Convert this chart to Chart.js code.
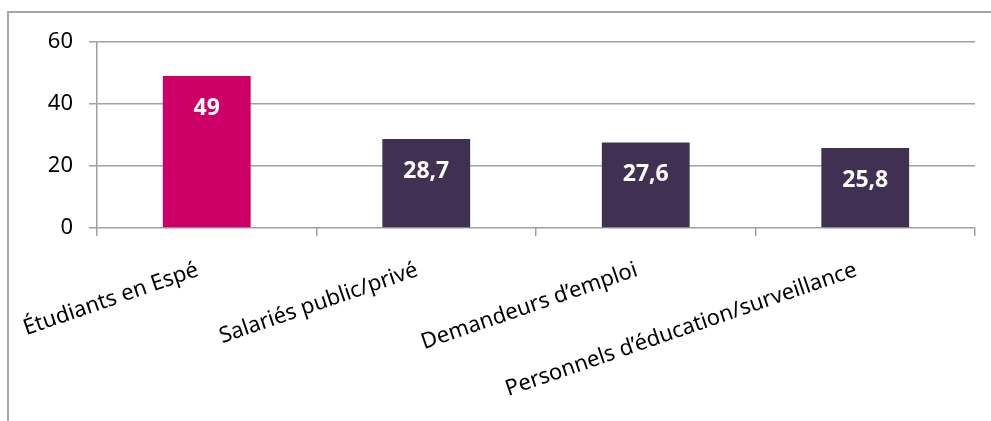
<!DOCTYPE html>
<html>
<head>
<meta charset="utf-8">
<script src="https://cdn.jsdelivr.net/npm/chart.js@4/dist/chart.umd.min.js"></script>
<style>
  html, body { margin: 0; padding: 0; background: #fff; }
  #cadre { position: absolute; left: 7px; top: 11px; width: 1000px; height: 420px;
           border-left: 2px solid #a6a6a6; border-top: 2px solid #a6a6a6; }
  #zone { position: absolute; left: 0; top: 0; width: 991px; height: 421px; }
</style>
</head>
<body>
<div id="cadre"></div>
<div id="zone"><canvas id="grafica"></canvas></div>
<script>
var categorias = ["Étudiants en Espé", "Salariés public/privé", "Demandeurs d\u2019emploi", "Personnels d\u2019éducation/surveillance"];
var valores = [49, 28.7, 27.6, 25.8];
var colores = ["#cc0066", "#403152", "#403152", "#403152"];
var ticksY = [0, 20, 40, 60];

// etiquetas blancas dentro de las barras
var etiquetas = {
  id: "etiquetas",
  afterDatasetsDraw: function(chart)
  {
    var ctx = chart.ctx;
    var meta = chart.getDatasetMeta(0);
    ctx.save();
    ctx.fillStyle = "#ffffff";
    ctx.font = "bold 23px 'Noto Sans'";
    ctx.textAlign = "center";
    ctx.textBaseline = "middle";
    meta.data.forEach(function(bar, i){
      ctx.fillText(String(valores[i]).replace(".", ","), bar.x, bar.y + 32);
    });
    ctx.restore();
  }
};

var chart = new Chart(document.getElementById("grafica"), {
  type: "bar",
  data: {
    labels: categorias,
    datasets: [{
      data: valores,
      backgroundColor: colores,
      categoryPercentage: 1,
      barPercentage: 0.4
    }]
  },
  options: {
    responsive: true,
    maintainAspectRatio: false,
    animation: false,
    layout: { padding: { left: 0, right: 16, top: 42, bottom: 0 } },
    plugins: { legend: { display: false }, tooltip: { enabled: false } },
    scales: {
      x: {
        grid: { drawOnChartArea: false, drawTicks: true, tickLength: 8, color: "#a0a0a0", lineWidth: 1.5, offset: true },
        border: { display: false },
        ticks: { color: "#000", font: { family: "'Noto Sans'", size: 22 }, minRotation: 19, maxRotation: 19, padding: 21, labelOffset: -9, autoSkip: false },
        afterFit: function(axis){ axis.height = 193; }
      },
      y: {
        min: 0, max: 60,
        afterBuildTicks: function(axis){ axis.ticks = ticksY.map(function(v){ return { value: v }; }); },
        grid: { color: "#a0a0a0", lineWidth: 1.5, tickLength: 8 },
        border: { color: "#a0a0a0", width: 1.5 },
        ticks: { color: "#000", font: { family: "'Noto Sans'", size: 22 }, padding: 16 },
        afterFit: function(axis){ axis.width = 97; }
      }
    }
  },
  plugins: [etiquetas]
});
</script>
</body>
</html>
